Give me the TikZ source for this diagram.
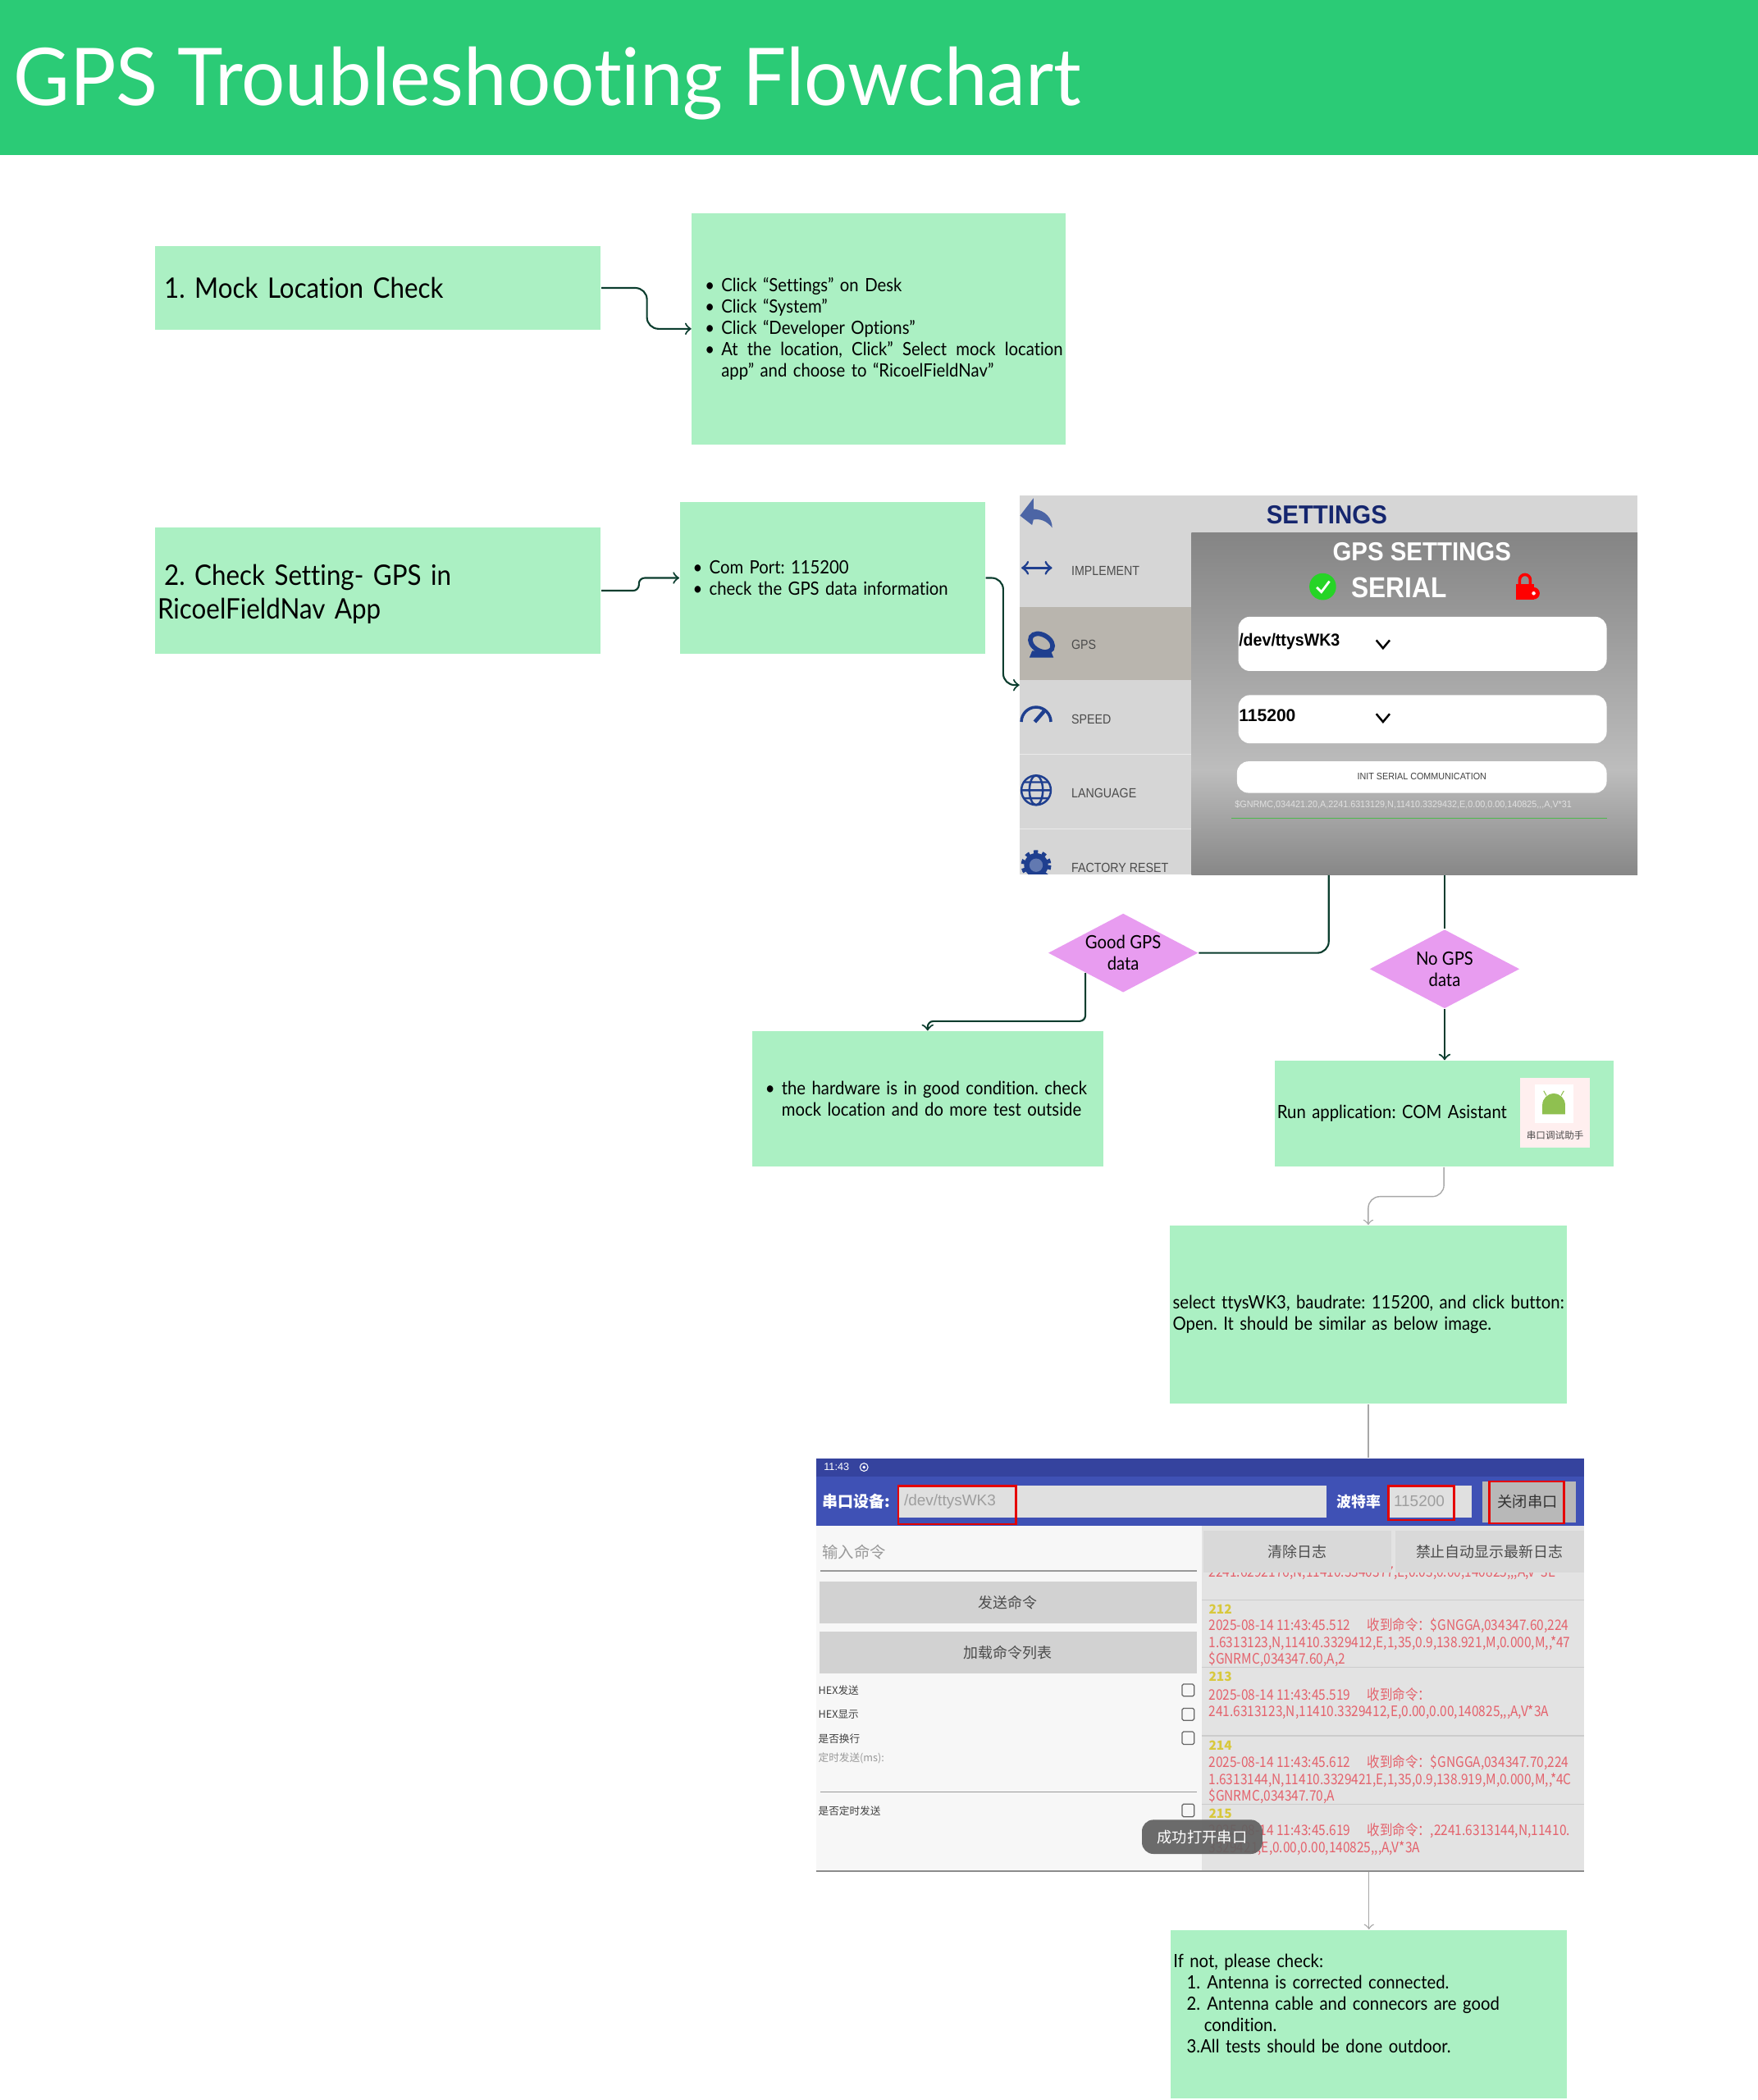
\documentclass[tikz,border=0pt]{standalone}
\usepackage{fontspec}
\setmainfont{Lato}[FakeStretch=0.91,Ligatures={NoCommon}]
\newfontfamily\titlefont{Lato}[FakeStretch=0.97,Ligatures={NoCommon}]
\newfontfamily\cjk{Noto Sans CJK SC}
\newfontfamily\uifont{Liberation Sans}
\usetikzlibrary{shapes.geometric}
\frenchspacing

\newlength{\pxu}
\setlength{\pxu}{0.016326cm}
\newcommand{\bul}{\makebox[20\pxu][r]{\textbullet\hspace{5\pxu}}}
\newcommand{\gap}{\hspace*{20\pxu}}
\newcommand{\narrow}[2][0.93]{\scalebox{#1}[1]{#2}}
\newcommand{\nohyph}{\hyphenpenalty=10000\relax}
\newcommand{\justline}[1]{{\spaceskip=0.2em plus 1fil\relax\makebox[255\pxu][s]{#1}}}

\definecolor{headgreen}{HTML}{2BCB76}
\definecolor{boxgreen}{HTML}{ABF0C3}
\definecolor{diapink}{HTML}{E89CF0}
\definecolor{linegreen}{HTML}{0B3D2E}
\definecolor{linegray}{HTML}{A8A8A8}
\definecolor{menugray}{HTML}{D6D6D6}
\definecolor{menusel}{HTML}{B9B5AE}
\definecolor{navy}{HTML}{15266E}
\definecolor{iconblue}{HTML}{1F3F8F}
\definecolor{barblue}{HTML}{35439E}
\definecolor{toolblue}{HTML}{3F51B5}
\definecolor{logred}{HTML}{E4626C}
\definecolor{logyellow}{HTML}{D8C83C}
\definecolor{btngray}{HTML}{D2D2D2}
\definecolor{androidgreen}{HTML}{8FC050}

\tikzset{
  flowbox/.style 2 args={fill=boxgreen, minimum width=#1*\pxu, minimum height=#2*\pxu,
    inner xsep=2\pxu, inner ysep=0pt, text width=#1*\pxu-4*\pxu, align=left,
    font=\fontsize{6.35}{7.4}\selectfont\nohyph},
  decide/.style={diamond, fill=diapink, aspect=1.9, inner sep=-4pt, minimum width=112*\pxu,
    minimum height=59*\pxu, align=center, font=\fontsize{6.35}{7.4}\selectfont},
  shot/.style 2 args={minimum width=#1*\pxu, minimum height=#2*\pxu, inner sep=0pt},
  link/.style={draw=linegreen, line width=0.6pt, rounded corners=4pt},
  thinlink/.style={draw=linegray, line width=0.4pt, rounded corners=4pt},
  menulabel/.style={anchor=west, inner sep=0pt, text=black!70, font=\uifont\fontsize{4.6}{5}\selectfont},
  loglabel/.style={anchor=west, inner sep=0pt, text=logred, font=\cjk\fontsize{5}{5}\selectfont},
  lognum/.style={anchor=west, inner sep=0pt, text=logyellow, font=\cjk\bfseries\fontsize{4.4}{5}\selectfont},
  sidelabel/.style={anchor=west, inner sep=0pt, text=black!75, font=\cjk\fontsize{3.6}{4}\selectfont},
  graybtn/.style 2 args={fill=btngray, minimum width=#1*\pxu, minimum height=#2*\pxu, inner sep=0pt,
    text=black!70, font=\cjk\fontsize{5.1}{6}\selectfont},
  redmark/.style={draw=red!90!black, line width=0.7pt},
  tick/.style={draw=black!60, line width=0.35pt, rounded corners=0.5pt}
}

\begin{document}
\begin{tikzpicture}[x=\pxu,y=-\pxu]
    \useasboundingbox (-0.6,0) rectangle (1311.4,1568);

    % header
    \node[fill=headgreen, minimum width=1316*\pxu, minimum height=115.5*\pxu, inner sep=0pt] (header) at (656,57.7) {};
    \node[anchor=base west, inner sep=0pt, text=white, font=\titlefont\fontsize{27.6}{31}\selectfont] (title) at (9,79) {GPS Troubleshooting Flowchart};

    % flow boxes
    \node[flowbox={333}{62}, font=\fontsize{9.8}{11.6}\selectfont] (mockbox) at (281.5,215) {\hspace*{5\pxu}1. Mock Location Check};
    \node[flowbox={279}{173}] (mocklist) at (655.5,245.5) {\bul Click “Settings” on Desk\\ \bul Click “System”\\ \bul Click “Developer Options”\\ \bul \justline{At the location, Click” Select mock location}\\ \gap app” and choose to “RicoelFieldNav”};
    \node[flowbox={333}{94}, font=\fontsize{9.8}{11.6}\selectfont] (gpsbox) at (281.5,441) {\rule{0pt}{9.6pt}\hspace*{5\pxu}2. Check Setting- GPS in\\ RicoelFieldNav App};
    \node[flowbox={228}{113}] (gpslist) at (621,431.5) {\bul Com Port: 115200\\ \bul check the GPS data information};

    % settings screenshot
    \node[shot={461}{283}, fill=menugray] (gpsshot) at (991.5,511.5) {};
    \fill[menusel] (761,453) rectangle (889,508);
    \draw[white!92!black, line width=0.3pt] (761,563) -- (889,563) (761,619) -- (889,619);
    \shade[top color=black!48, bottom color=black!26] (889,398) rectangle (1222,575);
    \shade[top color=black!26, bottom color=black!47] (889,575) rectangle (1222,653);
    \node[inner sep=0pt, text=navy, font=\uifont\bfseries\fontsize{9}{10}\selectfont] (settitle) at (990,384.5) {\narrow{SETTINGS}};
    \node[inner sep=0pt, text=white, font=\uifont\bfseries\fontsize{9}{10}\selectfont] (gpstitle) at (1061,412) {\narrow{GPS SETTINGS}};
    \node[inner sep=0pt, text=white, font=\uifont\bfseries\fontsize{10}{11}\selectfont] (serial) at (1044,438.5) {\narrow[0.9]{SERIAL}};
    % icons of the settings page
    \fill[iconblue!80] (761,385) -- (771,372) -- (771,380) .. controls (780,381) and (785,387) .. (785,394) .. controls (781,389) and (776,387) .. (771,388) -- (770,392) -- cycle;
    \draw[iconblue, line width=0.8pt, <->] (762,424) -- (785,424);
    \draw[iconblue, line width=1.6pt, rotate around={-30:(777,480)}] (777,480) ellipse (9 and 6);
    \fill[iconblue] (768,491) -- (786,491) -- (784,486) -- (770,486) -- cycle;
    \draw[iconblue, line width=1pt] (762,539) arc (180:360:11);
    \draw[iconblue, line width=1.3pt] (772,539) -- (779,531);
    \draw[iconblue, line width=0.7pt] (773,590) circle (11);
    \draw[iconblue, line width=0.7pt] (773,590) ellipse (5 and 11) (762,590) -- (784,590) (764,584) -- (782,584) (764,596) -- (782,596);
    \fill[iconblue] (773,646) circle (9);
    \draw[iconblue, line width=1.2pt, dash pattern=on 1.5pt off 1.5pt] (773,646) circle (10);
    \fill[iconblue!70] (773,646) circle (5);
    \fill[white] (761,653) rectangle (889,665);
    \node[menulabel] (implabel) at (799,426) {\narrow[0.88]{IMPLEMENT}};
    \node[menulabel] (gpslabel) at (799,481.5) {\narrow[0.88]{GPS}};
    \node[menulabel] (speedlabel) at (799,537) {\narrow[0.88]{SPEED}};
    \node[menulabel] (langlabel) at (799,592.5) {\narrow[0.88]{LANGUAGE}};
    \node[menulabel] (resetlabel) at (799,648) {\narrow[0.88]{FACTORY RESET}};
    \fill[green!80!black!85] (987,438) circle (10);
    \draw[white, line width=0.8pt] (982.5,438.5) -- (986,442) -- (992,434);
    \fill[red] (1131,436) rectangle (1145,448);
    \draw[red, line width=1pt] (1134,437) -- (1134,433) arc (180:360:4) -- (1142,437);
    \fill[red] (1144.5,443) circle (4.5);
    \fill[white] (1144.5,443) circle (1.4);
    \fill[white, rounded corners=4pt] (924,460.5) rectangle (1199,501);
    \fill[white, rounded corners=4pt] (924,519) rectangle (1199,555);
    \fill[white, rounded corners=4pt] (923,568.5) rectangle (1199,592);
    \node[anchor=west, inner sep=0pt, font=\uifont\bfseries\fontsize{6}{7}\selectfont] (devfield) at (924,479) {\narrow{/dev/ttysWK3}};
    \node[anchor=west, inner sep=0pt, font=\uifont\bfseries\fontsize{6}{7}\selectfont] (baudfield) at (924,534) {115200};
    \draw[line width=0.7pt] (1027,478) -- (1032,484) -- (1037,478);
    \draw[line width=0.7pt] (1027,533) -- (1032,539) -- (1037,533);
    \node[inner sep=0pt, text=black!75, font=\uifont\fontsize{3.3}{4}\selectfont] (initbtn) at (1061,580) {\narrow{INIT SERIAL COMMUNICATION}};
    \node[anchor=west, inner sep=0pt, text=white!88!black, font=\uifont\fontsize{3.3}{4}\selectfont] (nmealine) at (921,601) {\narrow{\$GNRMC,034421.20,A,2241.6313129,N,11410.3329432,E,0.00,0.00,140825,,,A,V*31}};
    \draw[green!60!black!70, line width=0.3pt] (919,611) -- (1199,611);

    % decisions
    \node[decide] (goodgps) at (838,711.5) {Good GPS\\data};
    \node[decide] (nogps) at (1078,723.5) {No GPS\\data};

    % result boxes
    \node[flowbox={262}{101}] (hwbox) at (692,820.5) {\bul the hardware is in good condition. check\\ \gap mock location and do more test outside};
    \node[flowbox={253}{79}] (runbox) at (1077.5,831.5) {Run application: COM Asistant};
    \node[flowbox={296}{133}] (selectbox) at (1021,981.5) {\mbox{select ttysWK3, baudrate: 115200, and click button:}\\ Open. It should be similar as below image.};
    \node[flowbox={296}{126}] (ifnot) at (1021.5,1504) {If not, please check:\\ \hspace*{10\pxu}1.\hspace{5\pxu}Antenna is corrected connected.\\ \hspace*{10\pxu}2.\hspace{5\pxu}Antenna cable and connecors are good\\ \hspace*{23\pxu}condition.\\ \hspace*{10\pxu}3.All tests should be done outdoor.\\ \mbox{}};

    % app icon
    \node[shot={52}{52}, fill=pink!25] (appicon) at (1160.5,831) {};
    \fill[white] (1145.5,810) rectangle (1174,838.5);
    \fill[androidgreen] (1151,832) -- (1151,825) arc (180:360:8.5) -- (1168,832) -- cycle;
    \draw[androidgreen, line width=0.3pt] (1154,818) -- (1152,814.5) (1165,818) -- (1167,814.5);
    \node[inner sep=0pt, text=black!70, font=\cjk\fontsize{3.3}{4}\selectfont] (applabel) at (1160.5,847.5) {串口调试助手};

    % com assistant screenshot
    \node[shot={573}{308}, fill=white!97!black] (comshot) at (895.5,1243) {};
    \fill[barblue] (609,1089) rectangle (1182,1102.5);
    \fill[toolblue] (609,1102.5) rectangle (1182,1139.5);
    \fill[black!11] (897,1139.5) rectangle (1182,1397);
    \draw[black!45, line width=0.4pt] (609,1397) -- (1182,1397);
    \node[inner sep=0pt, text=white, font=\uifont\fontsize{3.6}{4}\selectfont] (clock) at (624,1095.5) {11:43};
    \draw[white, line width=0.3pt] (644.5,1095.5) circle (3);
    \fill[white] (644.5,1095.5) circle (1.2);
    \fill[black!12] (671,1109) rectangle (990,1133);
    \fill[black!12] (1036,1109) rectangle (1098,1133);
    \fill[black!28] (1106,1106) rectangle (1176,1137);
    \node[inner sep=0pt, text=white, font=\cjk\bfseries\fontsize{5.4}{6}\selectfont] (devtag) at (639,1121) {串口设备:};
    \node[anchor=west, inner sep=0pt, text=black!38, font=\uifont\fontsize{5.4}{6}\selectfont] (devtext) at (674,1121) {/dev/ttysWK3};
    \node[inner sep=0pt, text=white, font=\cjk\bfseries\fontsize{5.1}{6}\selectfont] (baudtag) at (1014,1121) {波特率};
    \node[inner sep=0pt, text=black!38, font=\uifont\fontsize{5.4}{6}\selectfont] (baudtext) at (1059,1121) {115200};
    \node[inner sep=0pt, text=black!80, font=\cjk\fontsize{5.2}{6}\selectfont] (closebtn) at (1140,1121) {关闭串口};
    \draw[redmark] (670,1109.5) rectangle (758,1138);
    \draw[redmark] (1036,1109.5) rectangle (1085,1135);
    \draw[redmark] (1111.5,1106) rectangle (1167,1137.5);
    \node[anchor=west, inner sep=0pt, text=black!40, font=\cjk\fontsize{5.5}{6}\selectfont] (cmdinput) at (613,1159) {输入命令};
    \draw[black!40, line width=0.4pt] (612,1173) -- (893,1173);
    \node[graybtn={282}{31}] (sendbtn) at (752,1196.5) {发送命令};
    \node[graybtn={282}{31}] (loadbtn) at (752,1234) {加载命令列表};
    \node[sidelabel] (hexsend) at (610,1262) {HEX发送};
    \node[sidelabel] (hexshow) at (610,1280) {HEX显示};
    \node[sidelabel] (newline) at (610,1298) {是否换行};
    \node[sidelabel, text=black!40] (timerms) at (610,1313) {定时发送(ms):};
    \node[sidelabel] (timersend) at (610,1352) {是否定时发送};
    \draw[tick] (882,1257.5) rectangle (891,1266.5);
    \draw[tick] (882,1275.5) rectangle (891,1284.5);
    \draw[tick] (882,1293) rectangle (891,1302.5);
    \draw[tick] (882,1347) rectangle (891,1356.5);
    \draw[black!40, line width=0.4pt] (612,1338) -- (893,1338);
    % log
    \node[loglabel] (log0) at (901.5,1174.5) {\narrow[0.88]{2241.6292176,N,11410.3340377,E,0.03,0.00,140825,,,A,V*3E}};
    \node[graybtn={140}{31}, fill=black!15] (clearbtn) at (968,1158.5) {清除日志};
    \node[graybtn={141}{31}, fill=black!15] (stopbtn) at (1111.5,1158.5) {禁止自动显示最新日志};
    \draw[black!20, line width=0.4pt] (897,1194.5) -- (1182,1194.5) (897,1245) -- (1182,1245) (897,1296) -- (1182,1296) (897,1347) -- (1182,1347);
    \node[lognum] (num212) at (901.5,1201.5) {212};
    \node[loglabel] (log1) at (901.5,1214) {\narrow[0.88]{2025-08-14 11:43:45.512\hspace{14\pxu}收到命令：\$GNGGA,034347.60,224}};
    \node[loglabel] (log2) at (901.5,1227) {\narrow[0.88]{1.6313123,N,11410.3329412,E,1,35,0.9,138.921,M,0.000,M,,*47}};
    \node[loglabel] (log3) at (901.5,1239) {\narrow[0.88]{\$GNRMC,034347.60,A,2}};
    \node[lognum] (num213) at (901.5,1252) {213};
    \node[loglabel] (log4) at (901.5,1265) {\narrow[0.88]{2025-08-14 11:43:45.519\hspace{14\pxu}收到命令：}};
    \node[loglabel] (log5) at (901.5,1278.5) {\narrow[0.88]{241.6313123,N,11410.3329412,E,0.00,0.00,140825,,,A,V*3A}};
    \node[lognum] (num214) at (901.5,1303) {214};
    \node[loglabel] (log6) at (901.5,1316) {\narrow[0.88]{2025-08-14 11:43:45.612\hspace{14\pxu}收到命令：\$GNGGA,034347.70,224}};
    \node[loglabel] (log7) at (901.5,1329) {\narrow[0.88]{1.6313144,N,11410.3329421,E,1,35,0.9,138.919,M,0.000,M,,*4C}};
    \node[loglabel] (log8) at (901.5,1341) {\narrow[0.88]{\$GNRMC,034347.70,A}};
    \node[lognum] (num215) at (901.5,1354) {215};
    \node[loglabel] (log9) at (901.5,1367) {\narrow[0.88]{2025-08-14 11:43:45.619\hspace{14\pxu}收到命令：,2241.6313144,N,11410.}};
    \node[loglabel] (log10) at (901.5,1380) {\narrow[0.88]{3329421,E,0.00,0.00,140825,,,A,V*3A}};
    \node[fill=black!62, fill opacity=0.93, text opacity=1, rounded corners=4pt, minimum width=90*\pxu, minimum height=25.5*\pxu, inner sep=0pt, text=white, font=\cjk\fontsize{5.2}{6}\selectfont] (toast) at (897,1371.5) {成功打开串口};

    % connectors
    \draw[link, ->] (mockbox.east) -- ++(34,0) |- (mocklist.west);
    \draw[link, ->, rounded corners=2pt] (gpsbox.east) -- ++(28,0) |- (gpslist.west);
    \draw[link, ->] (gpslist.east) -- ++(13,0) |- (gpsshot.west);
    \draw[link] (gpsshot.south) |- (goodgps.east);
    \draw[link] (gpsshot.south -| nogps.north) -- (nogps.north);
    \draw[link, ->, rounded corners=2pt] (goodgps.south west) -- ++(0,36) -| (hwbox.north);
    \draw[link, ->] (nogps.south) -- (nogps.south |- runbox.north);
    \draw[thinlink, ->] (runbox.south) -- ++(0,22) -| (selectbox.north);
    \draw[thinlink] (selectbox.south) -- (selectbox.south |- comshot.north);
    \draw[thinlink, ->] (comshot.south -| ifnot.north) -- (ifnot.north);
\end{tikzpicture}
\end{document}
